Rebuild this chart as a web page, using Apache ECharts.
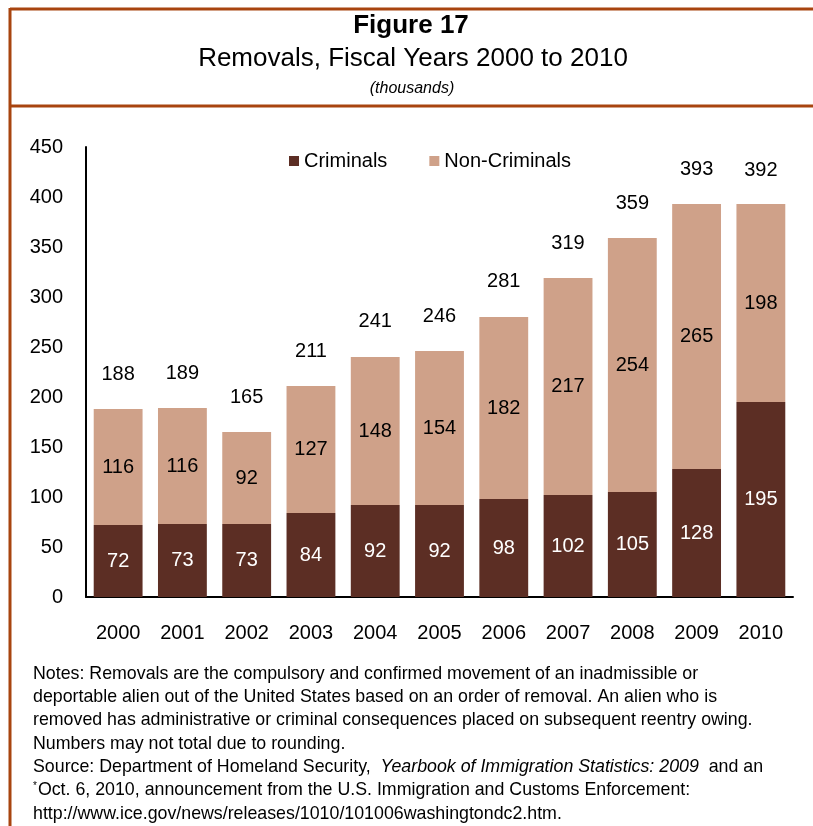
<!DOCTYPE html>
<html>
<head>
<meta charset="utf-8">
<script src="https://cdn.jsdelivr.net/npm/echarts@6/dist/echarts.min.js"></script>
<style>
  html, body { margin: 0; padding: 0; background: #fff; }
  #chart { width: 813px; height: 826px; }
</style>
</head>
<body>
<div id="chart"></div>
<script>
var years = ['2000', '2001', '2002', '2003', '2004', '2005', '2006', '2007', '2008', '2009', '2010'];
var criminals = [72, 73, 73, 84, 92, 92, 98, 102, 105, 128, 195];
var nonCriminals = [116, 116, 92, 127, 148, 154, 182, 217, 254, 265, 198];
var totals = [188, 189, 165, 211, 241, 246, 281, 319, 359, 393, 392];
var yTicks = [0, 50, 100, 150, 200, 250, 300, 350, 400, 450];

var noteLines = [
  'Notes: Removals are the compulsory and confirmed movement of an inadmissible or',
  'deportable alien out of the United States based on an order of removal. An alien who is',
  'removed has administrative or criminal consequences placed on subsequent reentry owing.',
  'Numbers may not total due to rounding.',
  'Source: Department of Homeland Security,  {i|Yearbook of Immigration Statistics: 2009}  and an',
  '{sup|*}Oct. 6, 2010, announcement from the U.S. Immigration and Customs Enforcement:',
  'http://www.ice.gov/news/releases/1010/101006washingtondc2.htm.'
];

var font = "'Liberation Sans', Arial, sans-serif";
var frameColor = '#A8440F';

var chart = echarts.init(document.getElementById('chart'));

var graphics = [
  { type: 'line', shape: { x1: 10, y1: 9, x2: 813, y2: 9 }, style: { stroke: frameColor, lineWidth: 3 } },
  { type: 'line', shape: { x1: 10, y1: 106, x2: 813, y2: 106 }, style: { stroke: frameColor, lineWidth: 3 } },
  { type: 'line', shape: { x1: 10, y1: 8, x2: 10, y2: 826 }, style: { stroke: frameColor, lineWidth: 3 } },
  { type: 'text', x: 411, y: 13, style: { text: 'Figure 17', font: 'bold 26px ' + font, fill: '#000', align: 'center' } },
  { type: 'text', x: 413, y: 46, style: { text: 'Removals, Fiscal Years 2000 to 2010', font: '26px ' + font, fill: '#000', align: 'center' } },
  { type: 'text', x: 412, y: 81, style: { text: '(thousands)', font: 'italic 16px ' + font, fill: '#000', align: 'center' } }
];
noteLines.forEach(function (t, i) {
  graphics.push({
    type: 'text', left: 33, top: 665 + i * 23.3,
    style: {
      text: t, font: '17.8px ' + font, fill: '#000',
      rich: {
        i: { fontStyle: 'italic', fontSize: 17.8, fontFamily: font },
        sup: { fontSize: 10, fontFamily: font, verticalAlign: 'top', padding: [0, 1, 8, 0] }
      }
    }
  });
});

chart.setOption({
  animation: false,
  textStyle: { fontFamily: font },
  graphic: graphics,
  legend: {
    data: ['Criminals', 'Non-Criminals'],
    left: 284, top: 146,
    itemWidth: 10, itemHeight: 10, itemGap: 42,
    textStyle: { fontSize: 20, color: '#000', fontFamily: font },
    icon: 'rect'
  },
  grid: { left: 86, right: 20, top: 147, bottom: 229, containLabel: false },
  xAxis: {
    type: 'category',
    data: years,
    axisLine: { lineStyle: { color: '#000', width: 2 } },
    axisTick: { show: false },
    axisLabel: { fontSize: 20, color: '#000', margin: 26 }
  },
  yAxis: {
    type: 'value',
    min: yTicks[0], max: yTicks[yTicks.length - 1], interval: 50,
    axisLine: { show: true, lineStyle: { color: '#000', width: 2 } },
    axisTick: { show: false },
    splitLine: { show: false },
    axisLabel: { fontSize: 20, color: '#000', margin: 23 }
  },
  series: [
    {
      name: 'Criminals', type: 'bar', stack: 'total', data: criminals,
      barCategoryGap: '24%',
      itemStyle: { color: '#5C2E24' },
      label: { show: true, position: 'inside', color: '#fff', fontSize: 20 }
    },
    {
      name: 'Non-Criminals', type: 'bar', stack: 'total', data: nonCriminals,
      barCategoryGap: '24%',
      itemStyle: { color: '#CFA189' },
      label: { show: true, position: 'inside', color: '#000', fontSize: 20 }
    },
    {
      name: 'Total', type: 'bar', data: totals,
      barGap: '-100%', barCategoryGap: '24%', silent: true, z: 1,
      itemStyle: { color: 'rgba(0,0,0,0)' },
      label: { show: true, position: 'top', distance: 25, color: '#000', fontSize: 20 }
    }
  ]
});
</script>
</body>
</html>
